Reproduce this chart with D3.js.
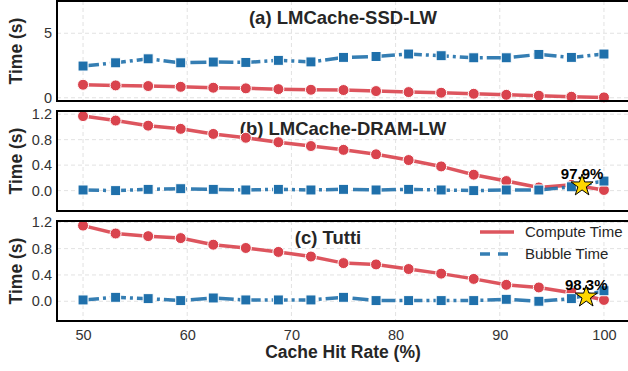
<!DOCTYPE html>
<html>
<head>
<meta charset="utf-8">
<script src="https://cdn.jsdelivr.net/npm/d3@7"></script>
<style>
  body { margin: 0; background: #fff; }
  svg { display: block; font-family: "Liberation Sans", Arial, sans-serif; }
</style>
</head>
<body>
<div id="chart"></div>
<script>
// Cache hit rate (%) - 17 points from 50 to 100
const hitRates = [50, 53.125, 56.25, 59.375, 62.5, 65.625, 68.75, 71.875, 75,
                  78.125, 81.25, 84.375, 87.5, 90.625, 93.75, 96.875, 100];

// (a) LMCache-SSD-LW
const ssdCompute = [1.01, 0.96, 0.91, 0.85, 0.78, 0.73, 0.67, 0.62, 0.60,
                    0.52, 0.44, 0.39, 0.31, 0.23, 0.16, 0.08, 0.03];
const ssdBubble  = [2.46, 2.71, 3.02, 2.71, 2.77, 2.74, 2.90, 2.78, 3.13,
                    3.20, 3.39, 3.26, 3.10, 3.10, 3.36, 3.13, 3.39];

// (b) LMCache-DRAM-LW
const dramCompute = [1.17, 1.10, 1.02, 0.97, 0.89, 0.83, 0.76, 0.70, 0.64,
                     0.57, 0.48, 0.38, 0.25, 0.15, 0.05, 0.09, 0.01];
const dramBubble  = [0.01, 0.00, 0.02, 0.03, 0.02, 0.01, 0.02, 0.01, 0.02,
                     0.01, 0.02, 0.01, 0.00, 0.01, 0.01, 0.06, 0.15];

// (c) Tutti
const tuttiCompute = [1.15, 1.03, 0.99, 0.96, 0.86, 0.81, 0.75, 0.68, 0.58,
                      0.56, 0.49, 0.42, 0.34, 0.25, 0.21, 0.13, 0.02];
const tuttiBubble  = [0.02, 0.06, 0.04, 0.01, 0.05, 0.02, 0.02, 0.02, 0.06,
                      0.01, 0.01, 0.01, 0.01, 0.03, 0.00, 0.04, 0.16];

// crossover markers
const crossovers = [null, {x: 97.9, y: 0.08, label: "97.9%"}, {x: 98.3, y: 0.07, label: "98.3%"}];

const xTicks = [50, 60, 70, 80, 90, 100];
const panelTitles = ["(a) LMCache-SSD-LW", "(b) LMCache-DRAM-LW", "(c) Tutti"];
const yTicksA = [0, 5];
const yTicksBC = [0.0, 0.4, 0.8, 1.2];

const width = 628, height = 371;
const left = 57, right = 630;
const red = "#d9434d", blue = "#1f70ab";

const svg = d3.select('#chart').append('svg')
    .attr('width', width)
    .attr('height', height);

const x = d3.scaleLinear().domain([47.5, 102.5]).range([left, right]);

const panels = [
    {top: 1,   bottom: 101, domain: [-0.25, 7.5], ticks: yTicksA, fmt: d3.format('d'),
     compute: ssdCompute, bubble: ssdBubble, titleX: 343, titleY: 24},
    {top: 111, bottom: 211, domain: [-0.32, 1.25], ticks: yTicksBC, fmt: d3.format('.1f'),
     compute: dramCompute, bubble: dramBubble, titleX: 343, titleY: 135},
    {top: 221, bottom: 321, domain: [-0.3, 1.22], ticks: yTicksBC, fmt: d3.format('.1f'),
     compute: tuttiCompute, bubble: tuttiBubble, titleX: 328, titleY: 244}
];

panels.forEach((p, i) => {
    const y = d3.scaleLinear().domain(p.domain).range([p.bottom, p.top]);
    const g = svg.append('g');

    // grid
    g.append('g').selectAll('line').data(xTicks).enter().append('line')
        .attr('x1', d => x(d)).attr('x2', d => x(d))
        .attr('y1', p.top).attr('y2', p.bottom)
        .attr('stroke', '#e2e2e2').attr('stroke-width', 1).attr('stroke-dasharray', '4,3');
    g.append('g').selectAll('line').data(p.ticks).enter().append('line')
        .attr('x1', left).attr('x2', right)
        .attr('y1', d => y(d)).attr('y2', d => y(d))
        .attr('stroke', '#e2e2e2').attr('stroke-width', 1).attr('stroke-dasharray', '4,3');

    // y axis labels
    const yAxis = d3.axisLeft(y).tickValues(p.ticks).tickFormat(p.fmt).tickSize(0).tickPadding(5);
    const ya = g.append('g').attr('transform', `translate(${left},0)`).call(yAxis);
    ya.select('.domain').remove();
    ya.selectAll('text').attr('font-size', 14.5).attr('fill', '#333')
        .attr('font-family', '"Liberation Sans", Arial, sans-serif');

    g.append('text')
        .attr('transform', `translate(22,${(p.top + p.bottom) / 2}) rotate(-90)`)
        .attr('text-anchor', 'middle')
        .attr('font-size', 17.5).attr('font-weight', 'bold').attr('fill', '#262626')
        .text('Time (s)');

    // title
    g.append('text')
        .attr('x', p.titleX).attr('y', p.titleY)
        .attr('text-anchor', 'middle')
        .attr('font-size', 18.5).attr('font-weight', 'bold').attr('fill', '#262626')
        .text(panelTitles[i]);

    // lines
    const line = d3.line().x((d, k) => x(hitRates[k])).y(d => y(d));
    g.append('path').datum(p.compute)
        .attr('d', line).attr('fill', 'none')
        .attr('stroke', red).attr('stroke-opacity', 0.9).attr('stroke-width', 3.5);
    g.append('g').selectAll('circle').data(p.compute).enter().append('circle')
        .attr('cx', (d, k) => x(hitRates[k])).attr('cy', d => y(d))
        .attr('r', 5.5).attr('fill', red).attr('stroke', '#fff').attr('stroke-width', 1);

    g.append('path').datum(p.bubble)
        .attr('d', line).attr('fill', 'none')
        .attr('stroke', blue).attr('stroke-opacity', 0.9).attr('stroke-width', 3.5)
        .attr('stroke-dasharray', '16,4,3,4');
    g.append('g').selectAll('rect').data(p.bubble).enter().append('rect')
        .attr('x', (d, k) => x(hitRates[k]) - 5).attr('y', d => y(d) - 5)
        .attr('width', 10).attr('height', 10)
        .attr('fill', blue).attr('stroke', '#fff').attr('stroke-width', 1);

    // crossover star
    const c = crossovers[i];
    if (c) {
        g.append('path')
            .attr('d', d3.symbol().type(d3.symbolStar).size(150)())
            .attr('transform', `translate(${x(c.x)},${y(c.y)})`)
            .attr('fill', '#ffd700').attr('stroke', '#000').attr('stroke-width', 1);
        g.append('text')
            .attr('x', x(c.x)).attr('y', y(c.y) - 7)
            .attr('text-anchor', 'middle')
            .attr('font-size', 15).attr('font-weight', 'bold').attr('fill', '#000')
            .text(c.label);
    }

    // frame
    g.append('rect')
        .attr('x', left).attr('y', p.top)
        .attr('width', right - left).attr('height', p.bottom - p.top)
        .attr('fill', 'none').attr('stroke', '#000').attr('stroke-width', 2);
});

// x axis on bottom panel
const xAxis = d3.axisBottom(x).tickValues(xTicks).tickSize(0).tickPadding(9);
const xa = svg.append('g').attr('transform', `translate(0,${panels[2].bottom})`).call(xAxis);
xa.select('.domain').remove();
xa.selectAll('text').attr('font-size', 14.5).attr('fill', '#333')
    .attr('font-family', '"Liberation Sans", Arial, sans-serif');

svg.append('text')
    .attr('x', 343).attr('y', 358)
    .attr('text-anchor', 'middle')
    .attr('font-size', 17.5).attr('font-weight', 'bold').attr('fill', '#262626')
    .text('Cache Hit Rate (%)');

// legend (in panel c)
const legend = [
    {label: 'Compute Time', color: red, dash: null},
    {label: 'Bubble Time', color: blue, dash: '10,8'}
];
const lg = svg.append('g');
legend.forEach((d, i) => {
    const ly = 232 + i * 22;
    lg.append('line')
        .attr('x1', 480).attr('x2', 514).attr('y1', ly).attr('y2', ly)
        .attr('stroke', d.color).attr('stroke-width', 3.5).attr('stroke-opacity', 0.9)
        .attr('stroke-dasharray', d.dash);
    lg.append('text')
        .attr('x', 525).attr('y', ly + 5)
        .attr('font-size', 15).attr('fill', '#262626')
        .text(d.label);
});
</script>
</body>
</html>
